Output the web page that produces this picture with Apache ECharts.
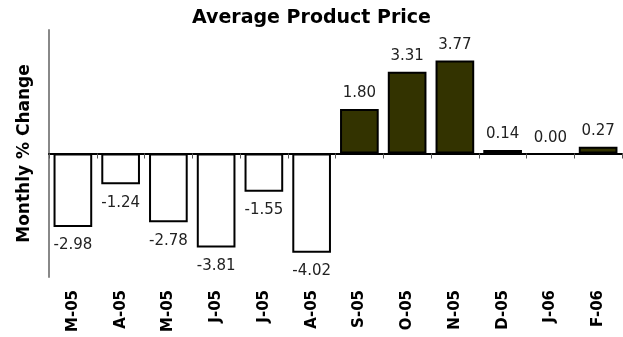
<!DOCTYPE html>
<html><head><meta charset="utf-8">
<script src="https://cdn.jsdelivr.net/npm/echarts@6/dist/echarts.min.js"></script>
<style>html,body{margin:0;padding:0;background:#fff}#c{width:623px;height:337px}</style>
</head><body><div id="c"></div>
<script>
var categories = ['M-05','A-05','M-05','J-05','J-05','A-05','S-05','O-05','N-05','D-05','J-06','F-06'];
var values = [-2.98,-1.24,-2.78,-3.81,-1.55,-4.02,1.80,3.31,3.77,0.14,0.00,0.27];
var FONT = 'DejaVu Sans';
var data = values.map(function(v){
  return {
    value: v,
    itemStyle: { color: v < 0 ? '#ffffff' : '#333300', borderColor: '#000', borderWidth: v === 0 ? 0 : 2 },
    label: { position: v < 0 ? 'bottom' : 'top', distance: v < 0 ? 11 : 8 }
  };
});
var chart = echarts.init(document.getElementById('c'), null, {renderer:'canvas'});
chart.setOption({
  animation: false,
  title: { text: 'Average Product Price', left: 'center', top: 4,
    textStyle: { fontFamily: FONT, fontSize: 19, fontWeight: 'bold', color: '#000' } },
  grid: { left: 49, right: 1, top: 30, bottom: 60, containLabel: false },
  xAxis: [
    { type: 'category', data: categories, position: 'bottom',
      axisLine: { onZero: true, lineStyle: { color: '#000', width: 2 } },
      axisTick: { show: true, length: 5, lineStyle: { color: '#555', width: 1 } },
      axisLabel: { show: false }, splitLine: { show: false } },
    { type: 'category', data: categories, position: 'bottom',
      axisLine: { show: false, onZero: false }, axisTick: { show: false },
      axisLabel: { rotate: 90, margin: 13, fontFamily: FONT, fontSize: 15, fontWeight: 'bold', color: '#000' } }
  ],
  yAxis: { type: 'value', min: -5, max: 5,
    name: 'Monthly % Change', nameLocation: 'middle', nameGap: 16, nameRotate: 90,
    nameTextStyle: { fontFamily: FONT, fontSize: 17, fontWeight: 'bold', color: '#000' },
    axisLine: { show: true, lineStyle: { color: '#888', width: 2 } },
    axisTick: { show: false }, axisLabel: { show: false }, splitLine: { show: false } },
  series: [{
    type: 'bar', xAxisIndex: 0, data: data, barCategoryGap: '19%',
    label: { show: true, fontFamily: FONT, fontSize: 15, color: '#222',
      formatter: function(p){ return p.value.toFixed(2); } }
  }]
});
</script></body></html>
